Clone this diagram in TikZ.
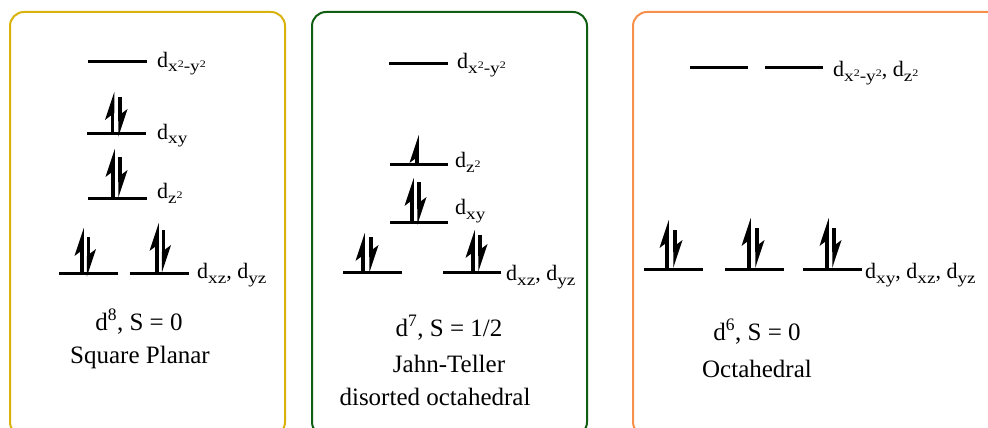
\documentclass[tikz,border=0pt]{standalone}
\usepackage{fontspec}
\usepackage{graphicx}
\setmainfont{Liberation Serif}
\definecolor{boxyellow}{HTML}{D9B20C}
\definecolor{boxgreen}{HTML}{0F5E12}
\definecolor{boxorange}{HTML}{F7904A}
\newcommand\sbs[1]{\raisebox{-5pt}{\scalebox{1.2}[1]{\fontsize{16}{16}\selectfont #1}}}
\newcommand\sqr{\raisebox{5pt}{\fontsize{10}{10}\selectfont 2}}
% up spin: x, base y, tip y
\newcommand\upspin[3]{%
  \fill (#1-1.75,#2) rectangle (#1+1.75,#3+16);
  \fill (#1+1.75,#3) -- (#1-7.5,#3+28) -- (#1+1.75,#3+21) -- cycle;}
% down spin: x, top y, tip y
\newcommand\downspin[3]{%
  \fill (#1-1.75,#2) rectangle (#1+1.75,#3-16);
  \fill (#1-1.75,#3) -- (#1+7.5,#3-28) -- (#1-1.75,#3-21) -- cycle;}
\begin{document}
\begin{tikzpicture}[x=1pt,y=-1pt,
  lvl/.style={line width=3pt},
  panel/.style={line width=2pt,rounded corners=14pt},
  lab/.style={anchor=base west,inner sep=0pt,font=\fontsize{22}{26}\selectfont},
  captext/.style={anchor=base,inner sep=0pt,font=\fontsize{25}{30}\selectfont}]
\useasboundingbox (0,0) rectangle (988,428);
\clip (0,0) rectangle (988,428);
\fill[white] (0,0) rectangle (988,428);
% panels
\draw[panel,boxyellow] (10,12) rectangle (285,436);
\draw[panel,boxgreen] (312,12) rectangle (587,436);
\draw[panel,boxorange] (633,12) rectangle (1010,436);

% ---------- Square planar ----------
\draw[lvl] (88,62) -- (147,62);
\draw[lvl] (87,133) -- (146,133);
\draw[lvl] (88,198) -- (147,198);
\draw[lvl] (59,273) -- (118,273);
\draw[lvl] (130,273) -- (189,273);
\upspin{112.5}{133}{92}\downspin{120}{97}{137}
\upspin{113}{198}{149}\downspin{120}{157}{198}
\upspin{82}{273}{228}\downspin{88.5}{237}{277}
\upspin{157}{273}{223}\downspin{163.5}{230}{273}
\node[lab] (sp1) at (157,67) {d\sbs{x\sqr-y\sqr}};
\node[lab] (sp2) at (157,139) {d\sbs{xy}};
\node[lab] (sp3) at (157,198) {d\sbs{z\sqr}};
\node[lab] (sp4) at (197,278) {d\sbs{xz}, d\sbs{yz}};
\node[captext] (spc1) at (139,330) {d\textsuperscript{8}, S = 0};
\node[captext] (spc2) at (140,363) {Square Planar};

% ---------- Jahn-Teller ----------
\draw[lvl] (389,64) -- (448,64);
\draw[lvl] (390,164) -- (448,164);
\draw[lvl] (390,222) -- (448,222);
\draw[lvl] (343,272) -- (402,272);
\draw[lvl] (443,272) -- (501,272);
\upspin{417}{164}{135}
\upspin{412}{222}{178}\downspin{419}{182}{225}
\upspin{363}{272}{233}\downspin{371}{237}{273}
\upspin{473}{272}{230}\downspin{480}{235}{272}
\node[lab] (jt1) at (457,69) {d\sbs{x\sqr-y\sqr}};
\node[lab] (jt2) at (455,167) {d\sbs{z\sqr}};
\node[lab] (jt3) at (455,214) {d\sbs{xy}};
\node[lab] (jt4) at (506,280) {d\sbs{xz}, d\sbs{yz}};
\node[captext] (jtc1) at (449,336) {d\textsuperscript{7}, S = 1/2};
\node[captext] (jtc2) at (449,372) {Jahn-Teller};
\node[captext] (jtc3) at (435,405) {disorted octahedral};

% ---------- Octahedral ----------
\draw[lvl] (690,68) -- (748,68);
\draw[lvl] (765,68) -- (823,68);
\draw[lvl] (644,269) -- (703,269);
\draw[lvl] (725,269) -- (784,269);
\draw[lvl] (803,269) -- (862,269);
\upspin{667}{269}{220}\downspin{675}{230}{268}
\upspin{749}{269}{218}\downspin{757}{228}{268}
\upspin{827}{269}{218}\downspin{834}{228}{268}
\node[lab] (oh1) at (833,77) {d\sbs{x\sqr-y\sqr}, d\sbs{z\sqr}};
\node[lab] (oh2) at (865,278) {d\sbs{xy}, d\sbs{xz}, d\sbs{yz}};
\node[captext] (ohc1) at (757,340) {d\textsuperscript{6}, S = 0};
\node[captext] (ohc2) at (757,377) {Octahedral};
\end{tikzpicture}
\end{document}
